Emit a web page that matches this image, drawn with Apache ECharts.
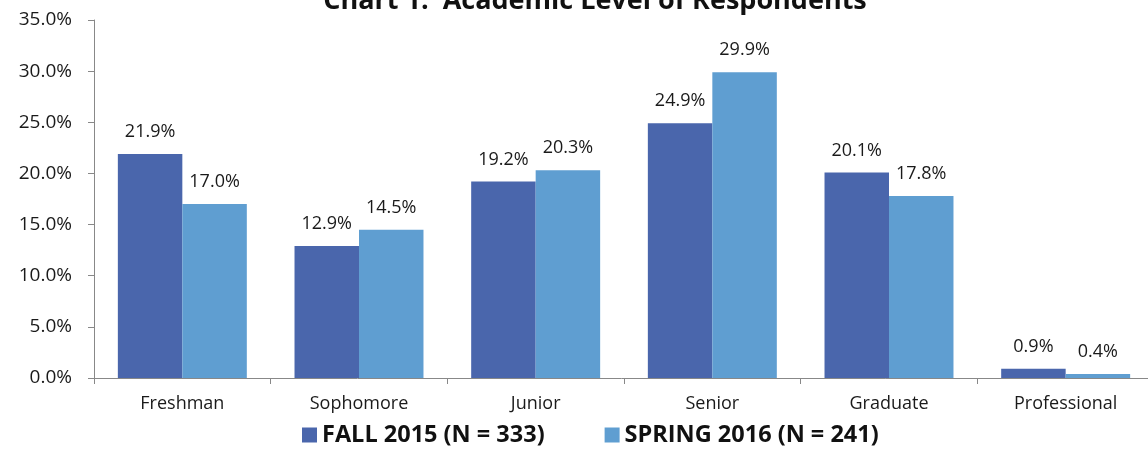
<!DOCTYPE html>
<html>
<head>
<meta charset="utf-8">
<script src="https://cdn.jsdelivr.net/npm/echarts@6/dist/echarts.min.js"></script>
<style>
  html, body { margin: 0; padding: 0; background: #fff; }
  #chart { width: 1148px; height: 452px; }
</style>
</head>
<body>
<div id="chart"></div>
<script>
const categories = ['Freshman', 'Sophomore', 'Junior', 'Senior', 'Graduate', 'Professional'];
const fall2015 = [21.9, 12.9, 19.2, 24.9, 20.1, 0.9];
const spring2016 = [17.0, 14.5, 20.3, 29.9, 17.8, 0.4];
const seriesNames = ['FALL 2015 (N = 333)', 'SPRING 2016 (N = 241)'];

const chart = echarts.init(document.getElementById('chart'));

const labelStyle = {
  show: true,
  position: 'top',
  distance: 13,
  fontFamily: 'Open Sans',
  fontSize: 18,
  color: '#1a1a1a',
  formatter: p => p.value.toFixed(1) + '%'
};

chart.setOption({
  animation: false,
  textStyle: { fontFamily: 'Open Sans' },
  title: {
    text: 'Chart 1:  Academic Level of Respondents',
    left: 590,
    textAlign: 'center',
    top: -17,
    textStyle: { fontFamily: 'Open Sans', fontWeight: 'bold', fontSize: 27, color: '#111' }
  },
  legend: {
    bottom: 0,
    left: 297,
    itemWidth: 15,
    itemHeight: 15,
    itemGap: 60,
    icon: 'rect',
    textStyle: { fontFamily: 'Open Sans', fontWeight: 'bold', fontSize: 23.5, color: '#111' },
    data: seriesNames
  },
  grid: { left: 94, width: 1060, top: 20, bottom: 74, outerBoundsMode: 'none' },
  xAxis: {
    type: 'category',
    data: categories,
    axisLine: { lineStyle: { color: '#888' } },
    axisTick: { show: true, length: 6, lineStyle: { color: '#888' } },
    axisLabel: { fontSize: 18, color: '#1a1a1a', margin: 17 }
  },
  yAxis: {
    type: 'value',
    min: 0,
    max: 35,
    interval: 5,
    axisLine: { show: true, lineStyle: { color: '#888' } },
    axisTick: { show: true, length: 6, lineStyle: { color: '#888' } },
    splitLine: { show: false },
    axisLabel: {
      fontSize: 19,
      color: '#1a1a1a',
      margin: 22,
      formatter: v => v.toFixed(1) + '%'
    }
  },
  series: [
    {
      name: seriesNames[0],
      type: 'bar',
      data: fall2015,
      barGap: '0%',
      barCategoryGap: '27%',
      itemStyle: { color: '#4A66AC' },
      label: labelStyle
    },
    {
      name: seriesNames[1],
      type: 'bar',
      data: spring2016,
      itemStyle: { color: '#5F9ED1' },
      label: labelStyle
    }
  ]
});
</script>
</body>
</html>
